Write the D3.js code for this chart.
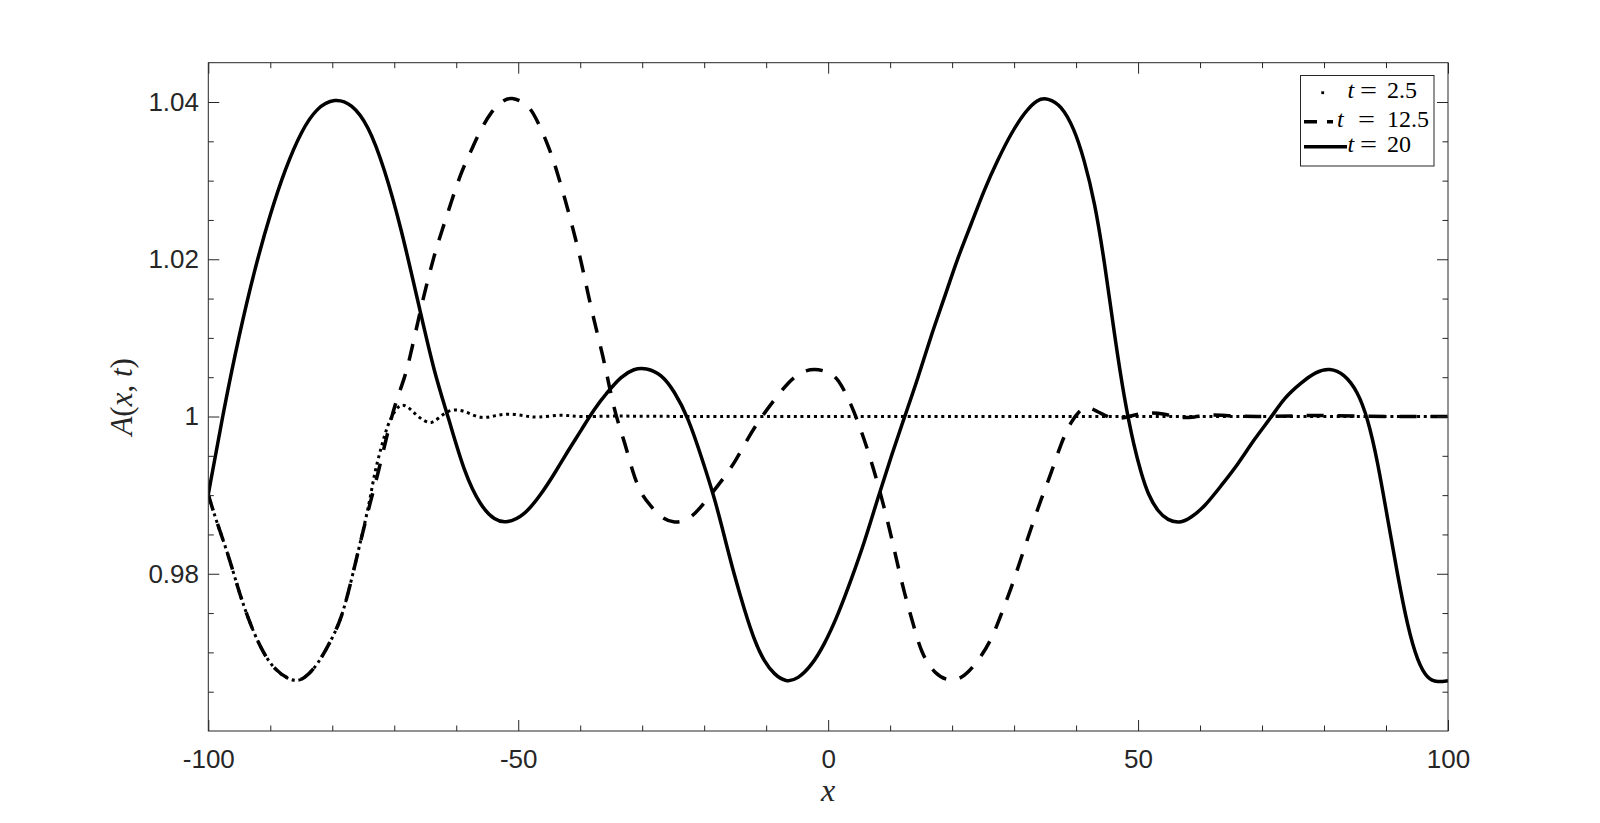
<!DOCTYPE html>
<html>
<head>
<meta charset="utf-8">
<script src="https://cdn.jsdelivr.net/npm/d3@7"></script>
<style>
	body { margin: 0; background: #fff; }
	svg { display: block; }
</style>
</head>
<body>
<div id="chart"></div>
<script>
//data
const xT20 = [-100, -97.6, -95, -92.5, -90, -87.5, -85, -82.5, -79.6, -76.9, -74.2, -71.6, -68.9, -66.2, -63.5, -61.3, -58.7, -56, -53.8, -51.9, -49, -46.3, -44.1, -42, -39.8, -37.7, -35.5, -33.4, -31.3, -29.4, -26.9, -24.8, -22.6, -20.5, -18.3, -16.7, -15.1, -13.5, -11.9, -10.3, -8.7, -6.8, -4.9, -2.7, -0.6, 1.6, 3.7, 5.9, 8, 10.2, 12.3, 14.5, 16.6, 18.8, 20.9, 23.1, 25.2, 27.4, 29.5, 31.7, 33.8, 35.4, 37.6, 39.7, 41.3, 43, 44.6, 46.2, 47.8, 49.4, 50.5, 51.6, 53.2, 54.8, 56.7, 58.5, 60.7, 63.4, 66.1, 68.8, 71.5, 73.6, 76.3, 78.7, 80.9, 83.3, 85.4, 87, 88.6, 90.3, 91.9, 93.5, 95.1, 96.7, 98.3, 100];
const yT20 = [0.9901, 1.0005, 1.0105, 1.0188, 1.0258, 1.0317, 1.0363, 1.0393, 1.0405, 1.0398, 1.0371, 1.0316, 1.0240, 1.0147, 1.0054, 1.0, 0.9928, 0.9885, 0.9868, 0.9864, 0.9874, 0.9901, 0.9928, 0.9956, 0.9983, 1.0010, 1.0032, 1.0051, 1.0061, 1.0062, 1.0054, 1.0032, 0.9999, 0.9950, 0.9896, 0.9846, 0.9797, 0.9754, 0.9715, 0.9688, 0.9672, 0.9662, 0.9666, 0.9683, 0.9710, 0.9748, 0.9792, 0.9841, 0.9896, 0.9950, 0.9999, 1.0049, 1.0103, 1.0152, 1.0202, 1.0245, 1.0289, 1.0327, 1.0360, 1.0387, 1.0404, 1.0405, 1.0396, 1.0366, 1.0327, 1.0273, 1.0196, 1.0103, 1.0021, 0.9960, 0.9928, 0.9901, 0.9879, 0.9868, 0.9864, 0.9871, 0.9885, 0.9912, 0.9939, 0.9972, 0.9999, 1.0024, 1.0043, 1.0057, 1.0062, 1.0054, 1.0032, 0.9999, 0.9945, 0.9868, 0.9797, 0.9732, 0.9688, 0.9666, 0.9662, 0.9664];

const xT125 = [-100, -99, -96.8, -95.2, -93.6, -91.5, -89.3, -86.3, -84.5, -82.3, -80.2, -78.5, -76.9, -75.3, -73.7, -72.6, -71.3, -69.9, -68.3, -67.3, -66.2, -65.1, -63.5, -62.4, -60.8, -59.2, -57.6, -56, -54.4, -52.7, -51.1, -48.7, -47.4, -45.2, -43.9, -42.5, -41.2, -39.8, -38.8, -37.7, -36.3, -35.3, -34.2, -32.8, -31.5, -30.2, -28.5, -26.9, -24.8, -22.6, -20.8, -18.9, -16.7, -14.8, -13, -10.8, -8.7, -6.5, -4.4, -2.2, 0, 1.6, 3.7, 5.3, 6.9, 8.5, 9.9, 11, 12.3, 13.7, 15, 17.2, 19.8, 22, 24.1, 26.3, 27.9, 29.5, 31.1, 32.7, 34.4, 36, 37.6, 39.2, 40.8, 41.9, 44, 46.2, 48.9, 51, 54.2, 56.4, 59.1, 61.8, 65.5, 72, 80, 85, 100];
const yT125 = [0.9901, 0.9874, 0.9825, 0.9781, 0.9743, 0.9704, 0.9677, 0.9662, 0.9666, 0.9685, 0.9715, 0.9743, 0.9792, 0.9846, 0.9896, 0.9928, 0.9972, 1.0016, 1.0049, 1.0081, 1.0120, 1.0158, 1.0207, 1.0234, 1.0273, 1.0311, 1.0338, 1.0366, 1.0387, 1.0401, 1.0407, 1.0398, 1.0385, 1.0346, 1.0316, 1.0278, 1.0240, 1.0196, 1.0158, 1.0120, 1.0076, 1.0038, 0.9999, 0.9967, 0.9928, 0.9901, 0.9885, 0.9871, 0.9864, 0.9868, 0.9882, 0.9901, 0.9923, 0.9945, 0.9972, 0.9999, 1.0021, 1.0043, 1.0057, 1.0061, 1.0057, 1.0049, 1.0016, 0.9983, 0.9945, 0.9901, 0.9857, 0.9819, 0.9775, 0.9737, 0.9699, 0.9672, 0.9662, 0.9669, 0.9688, 0.9715, 0.9748, 0.9781, 0.9819, 0.9857, 0.9896, 0.9928, 0.9967, 0.9994, 1.0010, 1.0013, 1.0004, 0.9995, 1.0001, 1.0005, 1.0004, 0.9998, 0.9999, 1.0003, 1.0, 1.0, 1.0002, 1.0, 1.0];

const xT25 = [-100, -99, -96.8, -95.2, -93.6, -91.5, -89.3, -86.3, -84.5, -82.3, -80.2, -78.5, -76.9, -75.3, -74, -73.2, -72.1, -71.1, -69.9, -68.9, -67.8, -66.5, -65.1, -64, -63, -61.3, -59.7, -58.1, -56, -53.8, -51.7, -49, -47, -43, -40, -35, -30, 0, 50, 100];
const yT25 = [0.9901, 0.9874, 0.9825, 0.9781, 0.9743, 0.9704, 0.9677, 0.9662, 0.9666, 0.9685, 0.9715, 0.9743, 0.9792, 0.9846, 0.9890, 0.9928, 0.9961, 0.9989, 1.0008, 1.0016, 1.0013, 1.0002, 0.9994, 0.9991, 0.9997, 1.0008, 1.0009, 1.0005, 0.9997, 1.0001, 1.0004, 1.0001, 0.9998, 1.0003, 0.9999, 1.0001, 1.0, 1.0, 1.0, 1.0];

const legendLabels = ['2.5', '12.5', '20'];

const xMajorTicks = [-100, -50, 0, 50, 100];
const xMinorTicks = [-90, -80, -70, -60, -40, -30, -20, -10, 10, 20, 30, 40, 60, 70, 80, 90];
const yMajorTicks = [0.98, 1, 1.02, 1.04];
const yTickLabels = ['0.98', '1', '1.02', '1.04'];
const yMinorTicks = [0.965, 0.97, 0.975, 0.985, 0.99, 0.995, 1.005, 1.01, 1.015, 1.025, 1.03, 1.035];

const series = [
	{ xs: xT25, ys: yT25, dash: '3,3.7', width: 3 },
	{ xs: xT125, ys: yT125, dash: '17,14', width: 3.5 },
	{ xs: xT20, ys: yT20, dash: null, width: 3.5 },
];

render();

function render() {
	const width = 1600;
	const height = 823;
	const margin = { left: 208.3, top: 62.7, right: 1600 - 1448, bottom: 823 - 731 };
	const innerW = width - margin.left - margin.right;
	const innerH = height - margin.top - margin.bottom;
	const axisColor = '#262626';
	const tickFont = '"Liberation Sans", Arial, Helvetica, sans-serif';
	const mathFont = '"Liberation Serif", "Times New Roman", serif';

	const svg = d3.select('#chart').append('svg')
		.attr('width', width)
		.attr('height', height);

	const x = d3.scaleLinear().domain([-100, 100]).range([0, innerW]);
	const y = d3.scaleLinear().domain([0.96, 1.045]).range([innerH, 0]);

	const g = svg.append('g').attr('transform', translation(margin.left, margin.top));

	g.append('clipPath').attr('id', 'clip')
		.append('rect').attr('width', innerW).attr('height', innerH);

	//curves
	const line = d3.line()
		.x((d) => x(d[0]))
		.y((d) => y(d[1]))
		.curve(d3.curveBasis);

	g.append('g').attr('clip-path', 'url(#clip)')
		.selectAll('path')
		.data(series)
		.enter()
		.append('path')
		.attr('d', (s) => line(s.xs.map((v, i) => [v, s.ys[i]])))
		.attr('fill', 'none')
		.attr('stroke', '#000')
		.attr('stroke-width', (s) => s.width)
		.attr('stroke-dasharray', (s) => s.dash)
		.attr('stroke-linejoin', 'round');

	//axes
	const styleAxis = (sel) => {
		sel.select('.domain').remove();
		sel.selectAll('line').attr('stroke', axisColor).attr('stroke-width', 1);
		sel.selectAll('text')
			.attr('fill', axisColor)
			.attr('font-family', tickFont)
			.attr('font-size', 26);
	};

	g.append('g').attr('transform', translation(0, innerH))
		.call(d3.axisBottom(x).tickValues(xMajorTicks).tickSizeInner(-11).tickSizeOuter(0)
			.tickPadding(19).tickFormat((d) => String(d)))
		.call(styleAxis);
	g.append('g').attr('transform', translation(0, innerH))
		.call(d3.axisBottom(x).tickValues(xMinorTicks).tickSizeInner(-5.5).tickSizeOuter(0).tickFormat(''))
		.call(styleAxis);
	g.append('g')
		.call(d3.axisTop(x).tickValues(xMajorTicks).tickSizeInner(-11).tickSizeOuter(0).tickFormat(''))
		.call(styleAxis);
	g.append('g')
		.call(d3.axisTop(x).tickValues(xMinorTicks).tickSizeInner(-5.5).tickSizeOuter(0).tickFormat(''))
		.call(styleAxis);

	g.append('g')
		.call(d3.axisLeft(y).tickValues(yMajorTicks).tickSizeInner(-11).tickSizeOuter(0)
			.tickPadding(9.3).tickFormat((d, i) => yTickLabels[i]))
		.call(styleAxis);
	g.append('g')
		.call(d3.axisLeft(y).tickValues(yMinorTicks).tickSizeInner(-5.5).tickSizeOuter(0).tickFormat(''))
		.call(styleAxis);
	g.append('g').attr('transform', translation(innerW, 0))
		.call(d3.axisRight(y).tickValues(yMajorTicks).tickSizeInner(-11).tickSizeOuter(0).tickFormat(''))
		.call(styleAxis);
	g.append('g').attr('transform', translation(innerW, 0))
		.call(d3.axisRight(y).tickValues(yMinorTicks).tickSizeInner(-5.5).tickSizeOuter(0).tickFormat(''))
		.call(styleAxis);

	g.append('rect')
		.attr('width', innerW)
		.attr('height', innerH)
		.attr('fill', 'none')
		.attr('stroke', axisColor)
		.attr('stroke-width', 1);

	//axis labels
	const xLabel = svg.append('text')
		.attr('x', margin.left + innerW / 2)
		.attr('y', 801)
		.attr('text-anchor', 'middle')
		.attr('font-family', mathFont)
		.attr('font-size', 32)
		.attr('fill', axisColor);
	xLabel.append('tspan').attr('font-style', 'italic').text('x');

	const yLabel = svg.append('text')
		.attr('transform', translation(132, margin.top + innerH / 2) + ' rotate(-90)')
		.attr('text-anchor', 'middle')
		.attr('font-family', mathFont)
		.attr('font-size', 31)
		.attr('fill', axisColor);
	yLabel.append('tspan').attr('font-style', 'italic').text('A');
	yLabel.append('tspan').text('(');
	yLabel.append('tspan').attr('font-style', 'italic').text('x');
	yLabel.append('tspan').text(', ');
	yLabel.append('tspan').attr('font-style', 'italic').text('t');
	yLabel.append('tspan').text(')');

	//legend
	const legend = svg.append('g').attr('class', 'legend');
	legend.append('rect')
		.attr('x', 1300.5)
		.attr('y', 75.5)
		.attr('width', 133.5)
		.attr('height', 90.5)
		.attr('fill', '#fff')
		.attr('stroke', axisColor)
		.attr('stroke-width', 1);

	const rowY = [92.7, 121.7, 146.7];
	const tX = [1347.5, 1337, 1347.5];

	// dotted sample: a single dot
	legend.append('rect')
		.attr('x', 1321.3).attr('y', rowY[0] - 1.4)
		.attr('width', 2.8).attr('height', 2.8)
		.attr('fill', '#000');
	legend.append('line')
		.attr('x1', 1304).attr('x2', 1333)
		.attr('y1', rowY[1]).attr('y2', rowY[1])
		.attr('stroke', '#000').attr('stroke-width', 3.5)
		.attr('stroke-dasharray', '13,10');
	legend.append('line')
		.attr('x1', 1304).attr('x2', 1347)
		.attr('y1', rowY[2]).attr('y2', rowY[2])
		.attr('stroke', '#000').attr('stroke-width', 3.5);

	legendLabels.forEach((label, i) => {
		const base = rowY[i] + 5.2;
		legend.append('text')
			.attr('x', tX[i]).attr('y', base)
			.attr('font-family', mathFont).attr('font-size', 24)
			.attr('font-style', 'italic').attr('fill', '#000')
			.text('t');
		legend.append('text')
			.attr('x', i === 1 ? 1358 : 1360).attr('y', base)
			.attr('font-family', mathFont).attr('font-size', 24)
			.attr('textLength', 17)
			.attr('lengthAdjust', 'spacingAndGlyphs')
			.attr('fill', '#000')
			.text('=');
		legend.append('text')
			.attr('x', 1387).attr('y', base)
			.attr('font-family', mathFont).attr('font-size', 24)
			.attr('fill', '#000')
			.text(label);
	});
}

//utils
function translation(x, y) {
	return `translate(${x}, ${y})`;
}
</script>
</body>
</html>
